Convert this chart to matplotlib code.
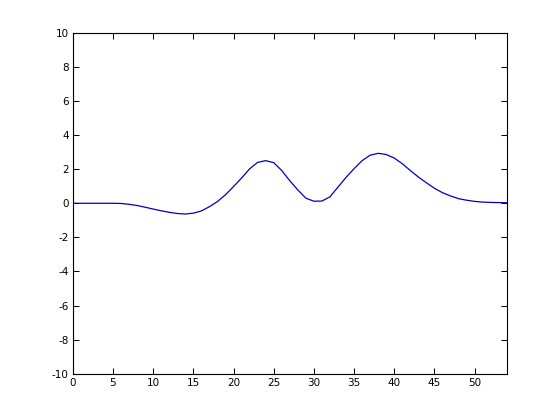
import numpy as np
import matplotlib
matplotlib.use('Agg')
from matplotlib import pyplot as plt

plt.rcParams['axes.unicode_minus'] = False

x = np.arange(0, 55)
y = [0.0, 0.0, 0.0, 0.0, 0.0, 0.0, -0.01, -0.06, -0.13, -0.23,
     -0.34, -0.44, -0.53, -0.6, -0.63, -0.58, -0.45, -0.2, 0.1, 0.5,
     0.98, 1.48, 2.02, 2.4, 2.5, 2.38, 1.92, 1.32, 0.78, 0.3,
     0.12, 0.13, 0.38, 0.95, 1.52, 2.03, 2.5, 2.82, 2.93, 2.86,
     2.65, 2.32, 1.92, 1.54, 1.2, 0.88, 0.62, 0.43, 0.27, 0.18,
     0.11, 0.07, 0.05, 0.04, 0.03]

xticks = np.arange(0, 51, 5)
yticks = np.arange(-10, 11, 2)

fig = plt.figure(figsize=(5.6, 4.2), dpi=100)
ax = fig.add_axes([0.13, 0.11, 0.775, 0.812])
ax.plot(x, y, color='#0000c0', lw=0.9)

ax.set_xlim(0, 54)
ax.set_ylim(-10, 10)
ax.set_xticks(xticks)
ax.set_yticks(yticks)
ax.tick_params(direction='in', top=True, right=True, length=4, width=0.75,
               labelsize=7.5, pad=3)
for s in ax.spines.values():
    s.set_linewidth(0.8)

fig.savefig('out.png', dpi=100)
